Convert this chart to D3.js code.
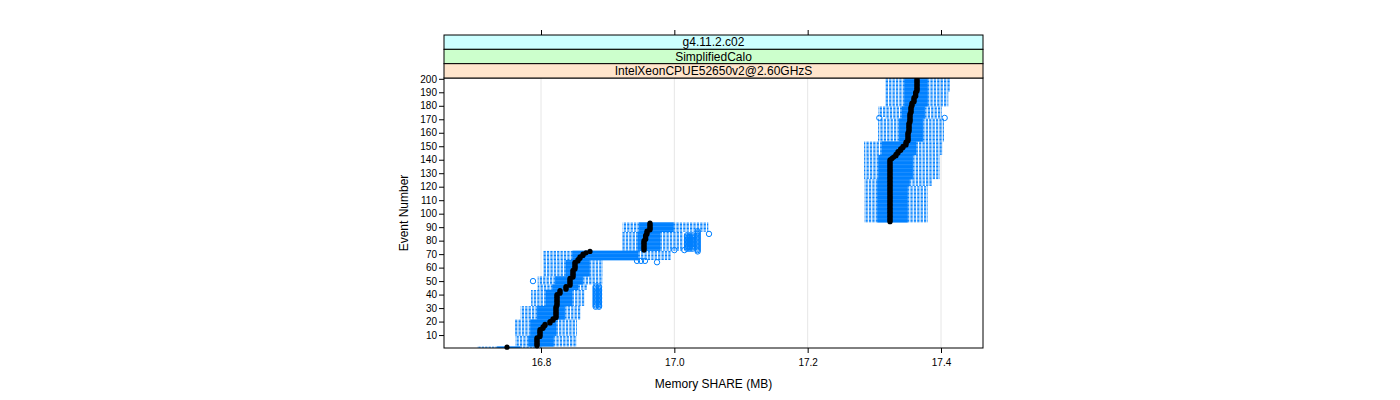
<!DOCTYPE html>
<html>
<head>
<meta charset="utf-8">
<script src="https://cdn.jsdelivr.net/npm/d3@7"></script>
<style>
  body { margin: 0; background: #fff; }
  text { font-family: "Liberation Sans", Arial, sans-serif; }
</style>
</head>
<body>
<div id="chart"></div>
<script>
// ---- data ----
const stripLabels = ["g4.11.2.c02", "SimplifiedCalo", "IntelXeonCPUE52650v2@2.60GHzS"];
const stripColors = ["#ccffff", "#ccffcc", "#ffe5cc"];
const xTicks = [16.8, 17.0, 17.2, 17.4];
const yTicks = [10, 20, 30, 40, 50, 60, 70, 80, 90, 100, 110, 120, 130, 140, 150, 160, 170, 180, 190, 200];
const events = d3.range(1, 201);

// [firstEvent, lastEvent, lowerWhisker, q1, q3, upperWhisker]
const boxRuns = [
  [1, 1, 16.704, 16.735, 16.768, 16.801],
  [2, 9, 16.761, 16.782, 16.818, 16.854],
  [10, 21, 16.761, 16.785, 16.822, 16.854],
  [22, 31, 16.769, 16.795, 16.835, 16.859],
  [32, 43, 16.785, 16.808, 16.846, 16.866],
  [44, 47, 16.795, 16.818, 16.855, 16.870],
  [48, 53, 16.795, 16.822, 16.862, 16.893],
  [54, 65, 16.803, 16.838, 16.872, 16.893],
  [66, 72, 16.803, 16.848, 16.945, 16.995],
  [73, 86, 16.922, 16.946, 16.978, 17.012],
  [87, 93, 16.922, 16.948, 16.998, 17.051],
  [94, 120, 17.2845, 17.3055, 17.349, 17.3805],
  [121, 125, 17.2845, 17.3055, 17.352, 17.3865],
  [126, 143, 17.2845, 17.307, 17.357, 17.3985],
  [144, 153, 17.2845, 17.312, 17.362, 17.403],
  [154, 170, 17.3055, 17.338, 17.372, 17.4045],
  [171, 171, 17.316, 17.342, 17.375, 17.400],
  [172, 179, 17.3055, 17.342, 17.375, 17.4015],
  [180, 190, 17.316, 17.346, 17.379, 17.411],
  [191, 200, 17.316, 17.346, 17.379, 17.4135]
];

// [firstEvent, lastEvent, median]
const medianRuns = [
  [1, 1, 16.749], [2, 8, 16.794], [9, 14, 16.7985], [15, 16, 16.803],
  [17, 18, 16.806], [19, 20, 16.8135], [21, 22, 16.818], [23, 31, 16.8225],
  [32, 40, 16.824], [41, 43, 16.8285], [44, 46, 16.8375], [47, 52, 16.8435],
  [53, 58, 16.848], [59, 64, 16.851], [65, 66, 16.8555], [67, 68, 16.8585],
  [69, 70, 16.863], [71, 71, 16.8675], [72, 72, 16.8735], [73, 80, 16.9545],
  [81, 84, 16.957], [85, 87, 16.959], [88, 93, 16.9635],
  [94, 140, 17.3235], [141, 141, 17.3265], [142, 142, 17.329], [143, 144, 17.3325],
  [145, 146, 17.3355], [147, 148, 17.3395], [149, 150, 17.343], [151, 153, 17.3475],
  [154, 160, 17.3505], [161, 167, 17.352], [168, 174, 17.3535], [175, 179, 17.355],
  [180, 182, 17.3565], [183, 186, 17.3595], [187, 190, 17.362], [191, 200, 17.364]
];

// [firstEvent, lastEvent, outlierValue]
const outlierRuns = [
  [31, 46, 16.882], [31, 46, 16.887], [50, 50, 16.788],
  [64, 64, 16.974], [65, 65, 16.944], [65, 65, 16.950], [65, 65, 16.956],
  [73, 73, 17.0], [73, 73, 17.015],
  [74, 84, 17.019], [74, 84, 17.023], [74, 84, 17.027], [72, 87, 17.035],
  [85, 85, 17.052],
  [171, 171, 17.3075], [171, 171, 17.4055]
];

// ---- layout ----
const width = 1400, height = 400;
const panel = { left: 444, right: 983, top: 78, bottom: 348 };
const stripH = 14.33;
const blue = "#0080ff";

const svg = d3.select("#chart").append("svg")
  .attr("width", width).attr("height", height);

const x = d3.scaleLinear().domain([16.6545, 17.463]).range([panel.left, panel.right]);
const y = d3.scaleLinear().domain([0.4, 200.6]).range([panel.bottom, panel.top]);

// expand runs to per-event rows
function lookup(runs, e) {
  return runs.filter(r => e >= r[0] && e <= r[1]);
}
const stats = events.map(e => {
  const b = lookup(boxRuns, e)[0];
  const m = lookup(medianRuns, e)[0];
  return { e, lo: b[2], q1: b[3], q3: b[4], hi: b[5], med: m[2],
           out: lookup(outlierRuns, e).map(r => r[2]) };
});

// grid
svg.append("g").selectAll("line").data(xTicks).join("line")
  .attr("x1", d => x(d)).attr("x2", d => x(d))
  .attr("y1", panel.top).attr("y2", panel.bottom)
  .attr("stroke", "#e6e6e6").attr("stroke-width", 1);

const half = (y(0) - y(1)) * 0.25;
const marks = svg.append("g");

// whiskers (dashed)
marks.selectAll("line.wl").data(stats).join("line").attr("class", "wl")
  .attr("x1", d => x(d.q1)).attr("x2", d => x(d.lo))
  .attr("y1", d => y(d.e)).attr("y2", d => y(d.e))
  .attr("stroke", blue).attr("stroke-dasharray", "2.3,1.1");
marks.selectAll("line.wr").data(stats).join("line").attr("class", "wr")
  .attr("x1", d => x(d.q3)).attr("x2", d => x(d.hi))
  .attr("y1", d => y(d.e)).attr("y2", d => y(d.e))
  .attr("stroke", blue).attr("stroke-dasharray", "2.3,1.1");

// boxes
marks.selectAll("rect.box").data(stats).join("rect").attr("class", "box")
  .attr("x", d => x(d.q1)).attr("width", d => x(d.q3) - x(d.q1))
  .attr("y", d => y(d.e) - half).attr("height", half * 2)
  .attr("fill", "none").attr("stroke", blue).attr("stroke-width", 1);

// outliers
const outs = stats.flatMap(d => d.out.map(v => ({ e: d.e, v })));
marks.selectAll("circle.out").data(outs).join("circle").attr("class", "out")
  .attr("cx", d => x(d.v)).attr("cy", d => y(d.e)).attr("r", 2.7)
  .attr("fill", "none").attr("stroke", blue).attr("stroke-width", 1);

// medians
marks.selectAll("circle.med").data(stats).join("circle").attr("class", "med")
  .attr("cx", d => x(d.med)).attr("cy", d => y(d.e)).attr("r", 2.6)
  .attr("fill", "#000");

// panel border
svg.append("rect")
  .attr("x", panel.left).attr("y", panel.top)
  .attr("width", panel.right - panel.left).attr("height", panel.bottom - panel.top)
  .attr("fill", "none").attr("stroke", "#000");

// strips (outermost on top)
stripLabels.forEach((lab, i) => {
  const top = panel.top - stripH * (3 - i);
  svg.append("rect")
    .attr("x", panel.left).attr("y", top)
    .attr("width", panel.right - panel.left).attr("height", stripH)
    .attr("fill", stripColors[i]).attr("stroke", "#000");
  svg.append("text")
    .attr("x", (panel.left + panel.right) / 2).attr("y", top + stripH / 2 + 4.3)
    .attr("text-anchor", "middle").attr("font-size", 12).text(lab);
});
const stripTop = panel.top - stripH * 3;

// axes
const xb = svg.append("g").attr("transform", `translate(0,${panel.bottom})`)
  .call(d3.axisBottom(x).tickValues(xTicks).tickFormat(d3.format(".1f")).tickSize(5).tickPadding(6));
const xt = svg.append("g").attr("transform", `translate(0,${stripTop})`)
  .call(d3.axisTop(x).tickValues(xTicks).tickFormat("").tickSize(5));
const yl = svg.append("g").attr("transform", `translate(${panel.left},0)`)
  .call(d3.axisLeft(y).tickValues(yTicks).tickSize(5).tickPadding(2));
[xb, xt, yl].forEach(g => {
  g.select(".domain").remove();
  g.selectAll("text").attr("font-size", 10).attr("fill", "#000")
    .attr("font-family", "Liberation Sans, Arial, sans-serif");
  g.selectAll("line").attr("stroke", "#000");
});

// axis titles
svg.append("text")
  .attr("x", (panel.left + panel.right) / 2).attr("y", 388)
  .attr("text-anchor", "middle").attr("font-size", 12).text("Memory SHARE (MB)");
svg.append("text")
  .attr("transform", `translate(408,${(panel.top + panel.bottom) / 2}) rotate(-90)`)
  .attr("text-anchor", "middle").attr("font-size", 12).text("Event Number");
</script>
</body>
</html>
